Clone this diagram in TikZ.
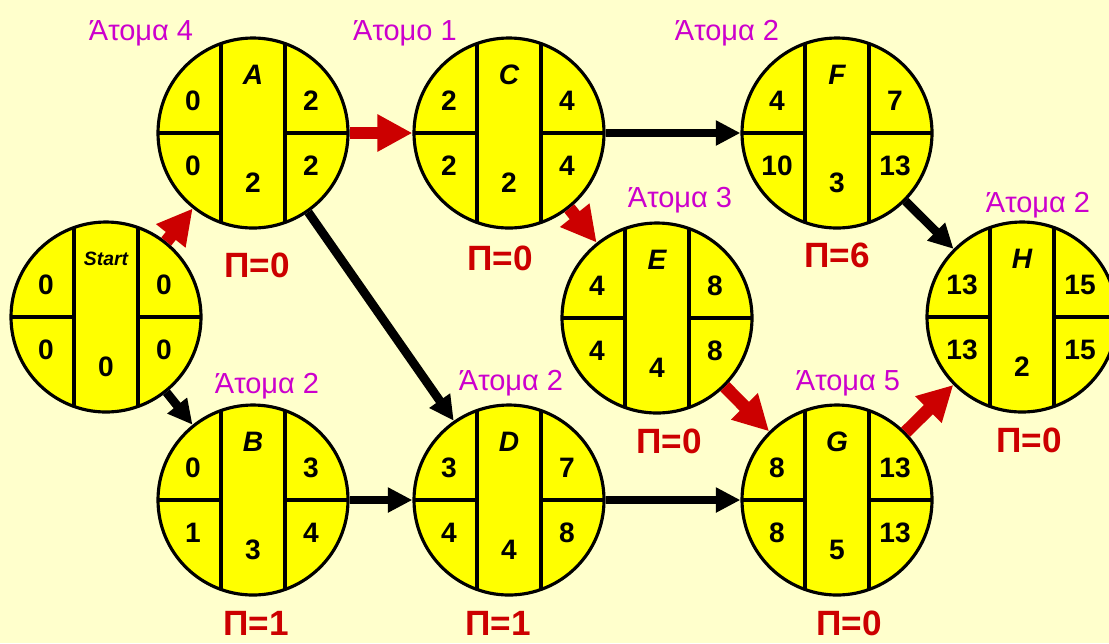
\documentclass[tikz,border=0pt]{standalone}
\usepackage{fontspec}
\setmainfont{Liberation Sans}
\usetikzlibrary{arrows.meta}

\definecolor{bgcream}{HTML}{FFFFCC}
\definecolor{actyellow}{HTML}{FFFF00}
\definecolor{crewmagenta}{HTML}{CC00CC}
\definecolor{slackred}{HTML}{CC0000}

% one activity circle: name, position, letter, ES, EF, LS, LF, duration
\newcommand{\actnode}[8]{%
    \node (#1) [activity] at (#2) {};
    \node (#1-nam) [actname] at ([shift={(0,1.16)}]#1.center) {#3};
    \node (#1-es) [actnum] at ([shift={(-1.2,0.64)}]#1.center) {#4};
    \node (#1-ef) [actnum] at ([shift={(1.16,0.64)}]#1.center) {#5};
    \node (#1-ls) [actnum] at ([shift={(-1.2,-0.66)}]#1.center) {#6};
    \node (#1-lf) [actnum] at ([shift={(1.16,-0.66)}]#1.center) {#7};
    \node (#1-dur) [actnum] at ([shift={(0,-1.0)}]#1.center) {#8};
}

\begin{document}
\begin{tikzpicture}[
    activity/.style={
        circle, minimum size=3.8cm, inner sep=0pt, fill=actyellow, draw=black, line width=1.8pt,
        path picture={
            \begin{scope}[shift={(path picture bounding box.center)}]
                \draw [line width=1.8pt] (-0.64,-2) -- (-0.64,2) (0.64,-2) -- (0.64,2)
                    (-2,0) -- (-0.64,0) (0.64,0) -- (2,0);
            \end{scope}
        }
    },
    actnum/.style={
        inner sep=0pt, font=\fontsize{16}{19}\selectfont\bfseries
    },
    actname/.style={
        inner sep=0pt, font=\fontsize{16}{19}\selectfont\bfseries\itshape
    },
    crew/.style={
        inner sep=0pt, text=crewmagenta, font=\fontsize{16.5}{19}\selectfont
    },
    slack/.style={
        inner sep=0pt, text=slackred, font=\fontsize{20}{24}\selectfont\bfseries
    },
    plain/.style={
        line width=5pt, color=black, -{Triangle[length=14pt,width=13.5pt]}
    },
    critical/.style={
        line width=7.3pt, color=slackred, -{Triangle[length=20pt,width=20pt]}
    }
]
    \useasboundingbox [fill=bgcream] (0,0) rectangle (22.18,-12.86);

    \actnode{sta}{2.12,-6.34}{\fontsize{11}{13}\selectfont Start}{0}{0}{0}{0}{0}
    \actnode{a}{5.06,-2.66}{A}{0}{2}{0}{2}{2}
    \actnode{b}{5.06,-10.0}{B}{0}{3}{1}{4}{3}
    \actnode{c}{10.18,-2.66}{C}{2}{4}{2}{4}{2}
    \actnode{d}{10.18,-10.0}{D}{3}{7}{4}{8}{4}
    \actnode{e}{13.14,-6.36}{E}{4}{8}{4}{8}{4}
    \actnode{f}{16.74,-2.66}{F}{4}{7}{10}{13}{3}
    \actnode{g}{16.74,-10.0}{G}{8}{13}{8}{13}{5}
    \actnode{h}{20.44,-6.34}{H}{13}{15}{13}{15}{2}

    % crew sizes
    \node (a-crw) [crew] at ([shift={(-2.24,2.0)}]a.center) {Άτομα 4};
    \node (c-crw) [crew] at ([shift={(-2.08,2.0)}]c.center) {Άτομο 1};
    \node (f-crw) [crew] at ([shift={(-2.2,2.0)}]f.center) {Άτομα 2};
    \node (e-crw) [crew] at ([shift={(0.46,2.36)}]e.center) {Άτομα 3};
    \node (h-crw) [crew] at ([shift={(0.32,2.24)}]h.center) {Άτομα 2};
    \node (b-crw) [crew] at ([shift={(0.28,2.28)}]b.center) {Άτομα 2};
    \node (d-crw) [crew] at ([shift={(0.04,2.34)}]d.center) {Άτομα 2};
    \node (g-crw) [crew] at ([shift={(0.22,2.34)}]g.center) {Άτομα 5};

    % slack
    \node (a-slk) [slack] at ([shift={(0.08,-2.64)}]a.center) {Π=0};
    \node (c-slk) [slack] at ([shift={(-0.18,-2.5)}]c.center) {Π=0};
    \node (f-slk) [slack] at ([shift={(0,-2.44)}]f.center) {Π=6};
    \node (e-slk) [slack] at ([shift={(0.24,-2.46)}]e.center) {Π=0};
    \node (h-slk) [slack] at ([shift={(0.14,-2.46)}]h.center) {Π=0};
    \node (b-slk) [slack] at ([shift={(0.06,-2.46)}]b.center) {Π=1};
    \node (d-slk) [slack] at ([shift={(-0.22,-2.46)}]d.center) {Π=1};
    \node (g-slk) [slack] at ([shift={(0.24,-2.46)}]g.center) {Π=0};

    \draw [critical] (sta) -- (a);
    \draw [critical] (a) -- (c);
    \draw [critical] (c) -- (e);
    \draw [critical] (e) -- (g);
    \draw [critical] (g) -- (h);

    \draw [plain] (sta) -- (b);
    \draw [plain] (a) -- (d);
    \draw [plain] (b) -- (d);
    \draw [plain] (c) -- (f);
    \draw [plain] (d) -- (g);
    \draw [plain] (f) -- (h);
\end{tikzpicture}
\end{document}
